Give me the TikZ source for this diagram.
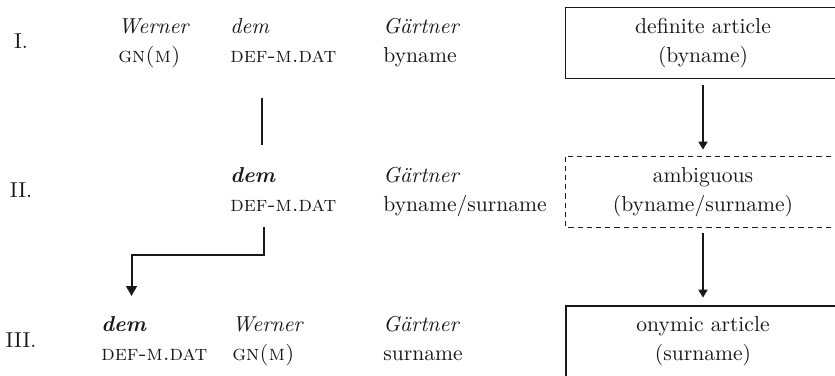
\documentclass[tikz,border=0pt]{standalone}
\usetikzlibrary{arrows.meta}
\definecolor{ink}{HTML}{1A1718}
\newcommand{\glfont}{\fontsize{10.8}{14.5}\selectfont}
\begin{document}
\begin{tikzpicture}[x=0.5pt, y=-0.5pt,
  every node/.style={text=ink},
  word/.style={anchor=base west, inner sep=0pt, font=\glfont},
  numeral/.style={anchor=base, inner sep=0pt, font=\glfont},
  stagebox/.style={minimum width=137pt, minimum height=35pt,
    inner sep=0pt, align=center, font=\glfont},
  flow/.style={draw=ink, line width=0.6pt, -{Triangle[length=4pt, width=4.6pt]}},
  link/.style={draw=ink, line width=0.7pt},
  moveline/.style={draw=ink, line width=1.0pt, -{Triangle[length=5pt, width=5.4pt]}}]
\path[use as bounding box, clip] (0,0) rectangle (835,375);

% stage numbers
\node[numeral] (nI)   at (21,48)  {I.};
\node[numeral] (nII)  at (21,197) {II.};
\node[numeral] (nIII) at (21,347) {III.};

% stage I
\node[word] (wI)   at (118,33) {\textit{Werner}};
\node[word] (wIg)  at (118,62) {\textsc{gn(m)}};
\node[word] (dI)   at (230,33) {\textit{dem}};
\node[word] (dIg)  at (230,62) {\textsc{def-m.dat}};
\node[word] (gI)   at (383,33) {\textit{Gärtner}};
\node[word] (gIg)  at (383,62) {byname};

% stage II
\node[word] (dII)  at (230,182) {\textbf{\textit{dem}}};
\node[word] (dIIg) at (230,211) {\textsc{def-m.dat}};
\node[word] (gII)  at (383,182) {\textit{Gärtner}};
\node[word] (gIIg) at (383,211) {byname/surname};

% stage III
\node[word] (dIII)  at (101,331) {\textbf{\textit{dem}}};
\node[word] (dIIIg) at (101,360) {\textsc{def-m.dat}};
\node[word] (wIII)  at (232,331) {\textit{Werner}};
\node[word] (wIIIg) at (232,360) {\textsc{gn(m)}};
\node[word] (gIII)  at (383,331) {\textit{Gärtner}};
\node[word] (gIIIg) at (383,360) {surname};

% interpretation boxes (outlines run on past the right and lower edges)
\node[stagebox] (b1) at (703,43)  {definite article\\(byname)};
\node[stagebox] (b2) at (703,192) {ambiguous\\(byname/surname)};
\node[stagebox] (b3) at (703,341) {onymic article\\(surname)};
\draw[ink, line width=0.7pt] (b1.north west) rectangle ([xshift=20pt]b1.south east);
\draw[ink, line width=0.6pt, dash pattern=on 2.6pt off 2pt] (b2.north west) rectangle ([xshift=20pt]b2.south east);
\draw[ink, line width=1.0pt] (b3.north west) rectangle ([xshift=20pt, yshift=-20pt]b3.south east);

\draw[flow, shorten <=3.5pt, shorten >=3.5pt] (b1.south) -- (b2.north);
\draw[flow, shorten <=3pt, shorten >=4pt] (b2.south) -- (b3.north);

% movement of the article
\coordinate (v1a) at (262,98);
\coordinate (v1b) at (262,145);
\draw[link] (v1a) -- (v1b);

\coordinate (k1) at (264,227);
\coordinate (k2) at (264,255);
\coordinate (k3) at (131.5,255);
\coordinate (k4) at (131.5,296);
\draw[moveline] (k1) -- (k2) -- (k3) -- (k4);
\end{tikzpicture}
\end{document}
